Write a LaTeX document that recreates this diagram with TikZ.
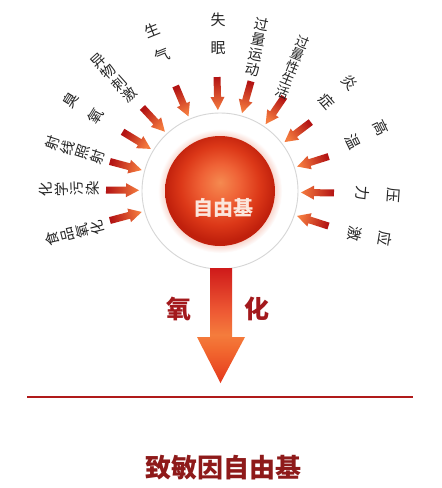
\documentclass[tikz,border=0pt]{standalone}
\usepackage{fontspec}
\newfontfamily\cjk{Noto Sans CJK SC}
\usetikzlibrary{calc}
\definecolor{ballA}{HTML}{F58A50}
\definecolor{ballB}{HTML}{EF6236}
\definecolor{ballC}{HTML}{DC3818}
\definecolor{ballD}{HTML}{C0200C}
\definecolor{bA}{HTML}{E5381C}
\definecolor{bB}{HTML}{F26A30}
\definecolor{bC}{HTML}{F47C3C}
\definecolor{bD}{HTML}{EE5A34}
\definecolor{bE}{HTML}{CF1A1A}
\definecolor{arrTail}{HTML}{B31414}
\definecolor{arrTip}{HTML}{F47A3E}
\definecolor{labcol}{HTML}{262626}
\definecolor{ringcol}{HTML}{D6D6D6}
\definecolor{oxcol}{HTML}{A3191C}
\definecolor{titlecol}{HTML}{8E1A1A}
\definecolor{linecol}{HTML}{B01A1A}
\definecolor{corecol}{HTML}{FBE6DC}
\definecolor{glowcol}{HTML}{F6C8BC}
\pgfdeclareradialshading{ballsh}{\pgfpoint{0bp}{4bp}}{color(0bp)=(ballA); color(9bp)=(ballB); color(18bp)=(ballC); color(25bp)=(ballD); color(50bp)=(ballD)}
\pgfdeclareradialshading{glowsh}{\pgfpoint{0bp}{0bp}}{color(0bp)=(glowcol); color(21bp)=(glowcol); color(25bp)=(white); color(50bp)=(white)}
\pgfdeclareverticalshading{bigsh}{100bp}{color(0bp)=(bA); color(25bp)=(bA); color(40bp)=(bB); color(46bp)=(bC); color(56bp)=(bD); color(75bp)=(bE); color(100bp)=(bE)}
\tikzset{
  lab2/.style={font=\cjk\fontsize{15}{30}\selectfont, align=center, inner sep=0pt, text=labcol},
  lab4/.style={font=\cjk\fontsize{14.5}{15.5}\selectfont, align=center, inner sep=0pt, text=labcol},
  lab5/.style={font=\cjk\fontsize{13.5}{13.5}\selectfont, align=center, inner sep=0pt, text=labcol},
  arrsh/.style={top color=arrTail, bottom color=arrTip},
  oxtext/.style={font=\cjk\bfseries\fontsize{25}{25}\selectfont, text=oxcol, inner sep=0pt},
}
\begin{document}
\begin{tikzpicture}[x=1pt,y=1pt]
\useasboundingbox (0,0) rectangle (442,-488);
\fill[white] (0,0) rectangle (442,-488);
\coordinate (c) at (220,-191);
% ring and ball
\node[circle, draw=ringcol, line width=0.9pt, fill=white, minimum size=156pt, inner sep=0pt] (ring) at (c) {};
\shade[shading=glowsh] (c) circle (62);
\node[circle, shading=ballsh, minimum size=110pt, inner sep=0pt] (ball) at (c) {};
\node[font=\cjk\bfseries\fontsize{20}{20}\selectfont, text=corecol, inner sep=0pt] (core) at (223,-208) {自由基};
% small arrows
\foreach \a in {195,179.5,165,148.7,132.9,112.9,91.5,74.2,55.7,37.2,17.6,-1,-17.9} {
  \pgfmathsetmacro\sa{\a-90}
  \shade[arrsh, shading angle=\sa]
    ($(c)+(\a:81)$) -- ($(c)+(\a:94)+(\a+90:7)$) -- ($(c)+(\a:94)+(\a+90:3.5)$)
    -- ($(c)+(\a:114)+(\a+90:3.5)$) -- ($(c)+(\a:114)+(\a-90:3.5)$)
    -- ($(c)+(\a:94)+(\a-90:3.5)$) -- ($(c)+(\a:94)+(\a-90:7)$) -- cycle;
}
% labels
\node[lab4, rotate=104] (l1) at (75,-233) {食\\品\\氧\\化};
\node[lab4, rotate=92] (l2) at (69,-189) {化\\学\\污\\染};
\node[lab4, rotate=72] (l3) at (75,-150) {射\\线\\照\\射};
\node[lab2, rotate=58] (l4) at (83,-108) {臭\\氧};
\node[lab4, rotate=42] (l5) at (114,-78) {异\\物\\刺\\激};
\node[lab2, rotate=22, font=\cjk\fontsize{15}{27}\selectfont] (l6) at (157,-43) {生\\气};
\node[lab2, rotate=0, font=\cjk\fontsize{15}{28}\selectfont] (l7) at (218,-34) {失\\眠};
\node[lab4, rotate=-11] (l8) at (257,-47) {过\\量\\运\\动};
\node[lab5, rotate=-22] (l9) at (293,-67) {过\\量\\性\\生\\活};
\node[lab2, rotate=-49] (l10) at (338,-92) {炎\\症};
\node[lab2, rotate=-64, font=\cjk\fontsize{15}{32}\selectfont] (l11) at (367,-135) {高\\温};
\node[lab2, rotate=-94, font=\cjk\fontsize{15}{31}\selectfont] (l12) at (378,-194) {压\\力};
\node[lab2, rotate=-99.5, font=\cjk\fontsize{15}{31}\selectfont] (l13) at (370,-236) {应\\激};
% big arrow
\shade[shading=bigsh] (210,-268) -- (232,-268) -- (232,-337) -- (245,-337) -- (220.5,-383) -- (197,-337) -- (210,-337) -- cycle;
\node[oxtext] (ox1) at (179,-309) {氧};
\node[oxtext] (ox2) at (257,-309) {化};
% line
\coordinate (ll) at (27,-397);
\coordinate (lr) at (413,-397);
\draw[linecol, line width=2.2pt] (ll) -- (lr);
\node[font=\cjk\bfseries\fontsize{26}{26}\selectfont, text=titlecol, inner sep=0pt] (title) at (223,-468) {致敏因自由基};
\end{tikzpicture}
\end{document}
